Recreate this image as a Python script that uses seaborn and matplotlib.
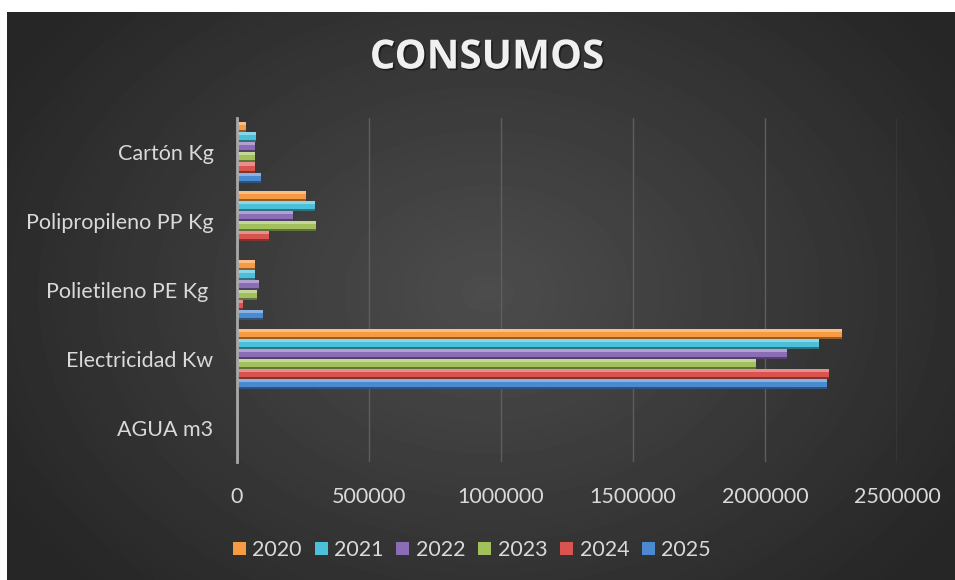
import numpy as np
import pandas as pd
import matplotlib
matplotlib.use('Agg')
import matplotlib.pyplot as plt
import matplotlib.patheffects as pe
from matplotlib.patches import Patch, Rectangle
from matplotlib.colors import to_rgb
import seaborn as sns

# data
categorias = ['Cartón Kg', 'Polipropileno PP Kg', 'Polietileno PE Kg ', 'Electricidad Kw', 'AGUA m3']
anios = ['2020', '2021', '2022', '2023', '2024', '2025']
v2020 = [34000, 261000, 68000, 2290000, 0]
v2021 = [72000, 295000, 67000, 2206000, 0]
v2022 = [68000, 211000, 84000, 2082000, 0]
v2023 = [68000, 299000, 75000, 1965000, 0]
v2024 = [68000, 122000, 24000, 2241000, 0]
v2025 = [91000, 0, 100000, 2234000, 0]
colores = ['#F69A43', '#4BC0D8', '#8A6DB5', '#A2C15E', '#D9544F', '#4C8AD0']
x_ticks = [0, 500000, 1000000, 1500000, 2000000, 2500000]

rows = []
for anio, vals in zip(anios, [v2020, v2021, v2022, v2023, v2024, v2025]):
    for cat, v in zip(categorias, vals):
        rows.append({'Categoria': cat, 'Año': anio, 'Valor': v})
df = pd.DataFrame(rows)

sns.set_style('white')
plt.rcParams['font.family'] = ['Lato', 'DejaVu Sans']
txt = '#d9d9d9'

fig = plt.figure(figsize=(9.55, 5.8), dpi=100)
fig.patch.set_facecolor('white')

# radial gradient background of the chart area
bg = fig.add_axes([7 / 955, 0, 948 / 955, 568 / 580])
yy, xx = np.mgrid[0:568, 0:948]
r = np.sqrt(((xx - 480) / 560) ** 2 + ((yy - 280) / 420) ** 2)
shade = np.clip(0.30 - 0.15 * r, 0.15, 0.30)
bg.imshow(shade, cmap='gray', vmin=0, vmax=1, aspect='auto', interpolation='bilinear')
bg.axis('off')

ax = fig.add_axes([237 / 955, 1 - 462 / 580, 660 / 955, 344 / 580])
ax.set_facecolor('none')
sns.barplot(data=df, y='Categoria', x='Valor', hue='Año', order=categorias,
            hue_order=anios, palette=colores, orient='h', width=0.88,
            saturation=1, ax=ax, legend=False)

# bevel look on each bar
for p in list(ax.patches):
    w, h = p.get_width(), p.get_height()
    if w <= 0:
        continue
    x0, y0 = p.get_x(), p.get_y()
    base = np.array(to_rgb(p.get_facecolor()))
    p.set_edgecolor('none')
    light = base + (1 - base) * 0.35
    dark = base * 0.6
    ax.add_patch(Rectangle((x0, y0), w, h * 0.3, facecolor=light, edgecolor='none', zorder=p.get_zorder()))
    ax.add_patch(Rectangle((x0, y0 + h * 0.8), w, h * 0.2, facecolor=dark, edgecolor='none', zorder=p.get_zorder()))

ax.set_xlim(0, 2500000)
ax.set_xticks(x_ticks)
ax.set_xticklabels([str(t) for t in x_ticks])
ax.grid(axis='x', color='#5e5e5e', linewidth=1)
ax.set_axisbelow(True)
for s in ['top', 'right', 'bottom']:
    ax.spines[s].set_visible(False)
ax.spines['left'].set_color('#a8a8a8')
ax.spines['left'].set_linewidth(2)
ax.tick_params(axis='both', length=0, labelsize=15.5, colors=txt)
ax.tick_params(axis='y', pad=17)
ax.tick_params(axis='x', pad=18)
ax.set_xlabel('')
ax.set_ylabel('')

fig.text(487 / 955, 1 - 58 / 580, 'CONSUMOS', ha='center', va='center',
         fontsize=29, fontweight='bold', color='#f0f0f0', family=['Open Sans', 'DejaVu Sans'],
         path_effects=[pe.withSimplePatchShadow(offset=(1.2, -1.2), shadow_rgbFace='black', alpha=0.45)])

handles = [Patch(facecolor=c, edgecolor='none', label=a) for a, c in zip(anios, colores)]
leg = fig.legend(handles=handles, loc='center', bbox_to_anchor=(472 / 955, 1 - 550 / 580),
                 ncol=6, frameon=False, fontsize=15.5, handlelength=0.6, handleheight=0.6,
                 handletextpad=0.3, columnspacing=0.6, borderpad=0)
for t in leg.get_texts():
    t.set_color(txt)

fig.savefig('out.png', dpi=100)
